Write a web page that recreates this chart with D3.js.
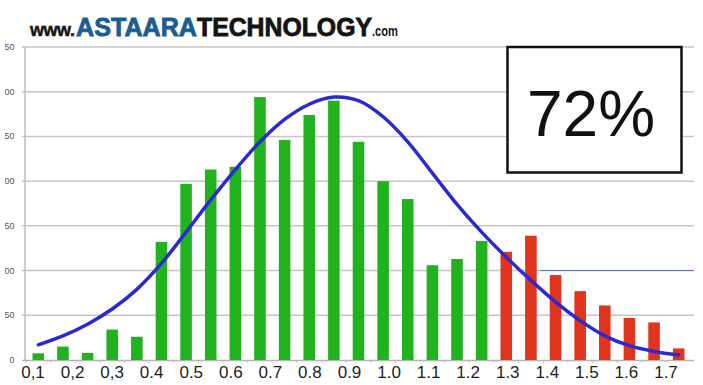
<!DOCTYPE html>
<html>
<head>
<meta charset="utf-8">
<style>
  body { margin: 0; background: #fff; }
  svg { display: block; }
</style>
</head>
<body>
<svg id="chart"></svg>
<script src="https://cdn.jsdelivr.net/npm/d3@7"></script>
<script>
/* global d3 */

// ---- data ----
// bar heights, one per bin (27 bins)
const counts = [7.5, 15, 8, 34, 26, 132, 197, 213, 216, 294, 246, 274, 290,
  244, 200, 180, 106, 113, 133, 121, 139, 95, 77, 61, 47, 42, 13]
// fitted normal curve, sampled at each bin
const curve = [17, 27, 40, 57, 79, 108, 143, 179, 213, 244, 269, 286, 294,
  290, 272, 244, 209, 174, 143, 115, 89, 65, 44, 27, 16, 9.5, 5.5]
// how many of the first bins pass (green), the rest are red
const passCount = 19
// y axis ticks
const yTicks = [0, 50, 100, 150, 200, 250, 300, 350]
// x axis labels (as written on the chart)
const xLabels = ['0,1', '0,2', '0,3', '0.4', '0.5', '0.6', '0.7', '0.8', '0.9',
  '1.0', '1.1', '1.2', '1.3', '1.4', '1.5', '1.6', '1.7']
const xLabelValues = [0.1, 0.2, 0.3, 0.4, 0.5, 0.6, 0.7, 0.8, 0.9,
  1.0, 1.1, 1.2, 1.3, 1.4, 1.5, 1.6, 1.7]
const share = '72%'

const width = 703
const height = 385
const green = '#21b31e'
const red = '#e1341c'
const blue = '#2a2ad0'

const svg = d3.select('#chart')
  .attr('width', width)
  .attr('height', height)

const bins = counts.map((d, i) => i)

const x = d3.scaleBand()
  .domain(bins)
  .range([26, 691])
  .paddingInner(0.53)
  .paddingOuter(0.265)

const y = d3.scaleLinear()
  .domain([0, 350])
  .range([360, 47])

// label scale, the labels sit on their own spacing
const xl = d3.scaleLinear()
  .domain([0.1, 1.7])
  .range([33, 666])

// grid lines
svg.append('g')
  .selectAll('line')
  .data(yTicks.filter(d => d > 0))
  .join('line')
  .attr('x1', 22)
  .attr('x2', 694)
  .attr('y1', d => y(d))
  .attr('y2', d => y(d))
  .attr('stroke', '#c6c6c6')
  .attr('stroke-width', 1.5)

// thin dark line over the 100 grid on the right
svg.append('line')
  .attr('x1', 540)
  .attr('x2', 694)
  .attr('y1', y(100))
  .attr('y2', y(100))
  .attr('stroke', '#6570a6')
  .attr('stroke-width', 1)

// y axis labels, cut by the left edge like in the screenshot
svg.append('clipPath')
  .attr('id', 'ycut')
  .append('rect')
  .attr('x', 5)
  .attr('y', 0)
  .attr('width', 20)
  .attr('height', height)

svg.append('g')
  .attr('clip-path', 'url(#ycut)')
  .selectAll('text')
  .data(yTicks)
  .join('text')
  .attr('x', 14.5)
  .attr('y', d => y(d) + 3)
  .attr('text-anchor', 'end')
  .attr('font-family', 'Liberation Sans, Arial, sans-serif')
  .attr('font-size', 9)
  .attr('fill', '#555')
  .text(d => d)

// axes lines
svg.append('line')
  .attr('x1', 25).attr('x2', 25)
  .attr('y1', 47).attr('y2', 361)
  .attr('stroke', '#bdbdbd')
  .attr('stroke-width', 1.5)

svg.append('line')
  .attr('x1', 22).attr('x2', 694)
  .attr('y1', 360.5).attr('y2', 360.5)
  .attr('stroke', '#b5b5b5')
  .attr('stroke-width', 1.5)

svg.append('g')
  .selectAll('line')
  .data(bins)
  .join('line')
  .attr('x1', d => x(d) - x.step() * 0.265)
  .attr('x2', d => x(d) - x.step() * 0.265)
  .attr('y1', 361)
  .attr('y2', 363)
  .attr('stroke', '#c4c4c4')

// bars
svg.append('g')
  .selectAll('rect')
  .data(counts)
  .join('rect')
  .attr('x', (d, i) => x(i))
  .attr('width', x.bandwidth())
  .attr('y', d => y(d))
  .attr('height', d => y(0) - y(d))
  .attr('fill', (d, i) => i < passCount ? green : red)

// curve
const line = d3.line()
  .x((d, i) => x(i) + x.bandwidth() / 2)
  .y(d => y(d))
  .curve(d3.curveCatmullRom)

svg.append('path')
  .datum(curve)
  .attr('d', line)
  .attr('fill', 'none')
  .attr('stroke', blue)
  .attr('stroke-width', 3.5)
  .attr('stroke-linecap', 'round')

// x labels
svg.append('g')
  .selectAll('text')
  .data(xLabels)
  .join('text')
  .attr('x', (d, i) => xl(xLabelValues[i]))
  .attr('y', 378)
  .attr('text-anchor', 'middle')
  .attr('font-family', 'Liberation Sans, Arial, sans-serif')
  .attr('font-size', 17)
  .attr('fill', '#1e1e1e')
  .text(d => d)

// percentage box
svg.append('rect')
  .attr('x', 507.5)
  .attr('y', 47)
  .attr('width', 174)
  .attr('height', 125.5)
  .attr('fill', '#fff')
  .attr('stroke', '#111')
  .attr('stroke-width', 2.5)

svg.append('text')
  .attr('x', 591)
  .attr('y', 136)
  .attr('text-anchor', 'middle')
  .attr('font-family', 'Liberation Sans, Arial, sans-serif')
  .attr('font-size', 64)
  .attr('fill', '#111')
  .text(share)

// site logo
const logo = svg.append('text')
  .attr('x', 30)
  .attr('y', 36)
  .attr('font-family', 'Liberation Sans, Arial, sans-serif')
  .attr('font-weight', 'bold')

logo.append('tspan')
  .attr('font-size', 18)
  .attr('fill', '#161616')
  .attr('stroke', '#161616')
  .attr('stroke-width', 0.5)
  .attr('textLength', 45)
  .text('www.')

logo.append('tspan')
  .attr('x', 76)
  .attr('font-size', 25)
  .attr('fill', '#1b5d90')
  .attr('stroke', '#1b5d90')
  .attr('stroke-width', 0.8)
  .attr('textLength', 121)
  .attr('lengthAdjust', 'spacingAndGlyphs')
  .text('ASTAARA')

logo.append('tspan')
  .attr('x', 197)
  .attr('font-size', 25)
  .attr('fill', '#141414')
  .attr('stroke', '#141414')
  .attr('stroke-width', 0.8)
  .attr('textLength', 175)
  .attr('lengthAdjust', 'spacingAndGlyphs')
  .text('TECHNOLOGY')

logo.append('tspan')
  .attr('x', 372)
  .attr('font-size', 14)
  .attr('fill', '#161616')
  .attr('textLength', 26)
  .attr('lengthAdjust', 'spacingAndGlyphs')
  .text('.com')
</script>
</body>
</html>
